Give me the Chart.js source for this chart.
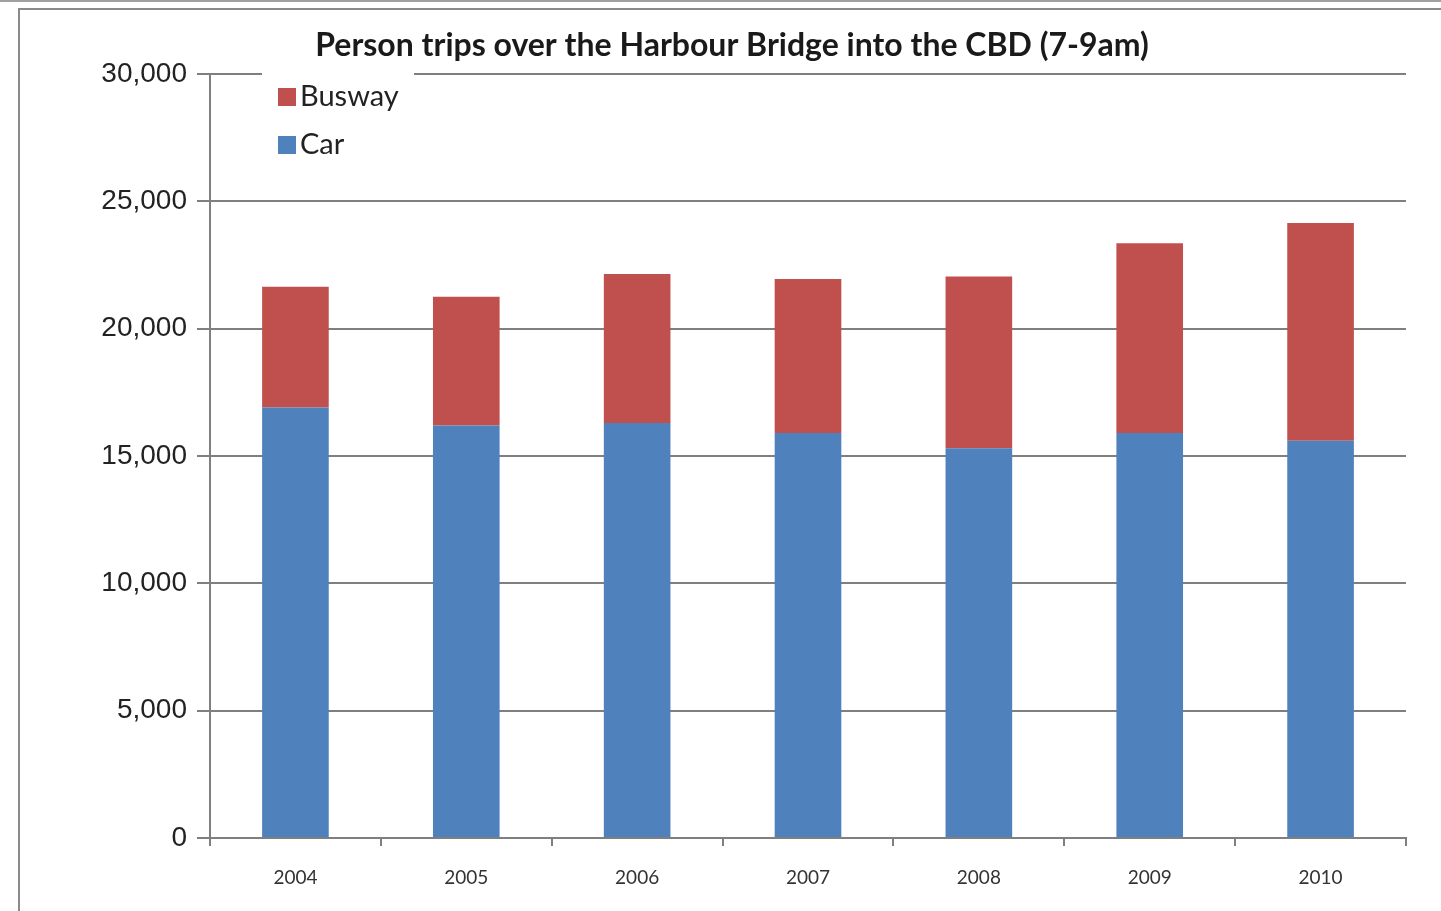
<!DOCTYPE html>
<html>
<head>
<meta charset="utf-8">
<script src="https://cdn.jsdelivr.net/npm/chart.js@4/dist/chart.umd.min.js"></script>
<style>
  html, body { margin: 0; padding: 0; background: #fff; }
  body { width: 1441px; height: 911px; position: relative; overflow: hidden; }
  .edge { position: absolute; left: 0; top: 0; width: 1441px; height: 2px; background: #a0a0a0; }
  .frame { position: absolute; left: 18px; top: 8px; width: 1500px; height: 1000px;
           border-left: 2px solid #8a8a8a; border-top: 2px solid #8a8a8a; }
  #myChart { position: absolute; left: 0; top: 0; }
</style>
</head>
<body>
<div class="edge"></div>
<div class="frame"></div>
<canvas id="myChart" width="1441" height="911"></canvas>
<script>
const years = ['2004', '2005', '2006', '2007', '2008', '2009', '2010'];
const carTrips = [16900, 16200, 16300, 15900, 15300, 15900, 15600];
const buswayTrips = [4750, 5050, 5850, 6050, 6750, 7450, 8550];
const yTicks = [0, 5000, 10000, 15000, 20000, 25000, 30000];

const axisGrey = '#7f7f7f';

// legend sits inside the plot, over the top gridline
const boxLegend = {
  id: 'boxLegend',
  afterDraw(chart) {
    const c = chart.ctx;
    const area = chart.chartArea;
    const x0 = area.left + 52;
    const y0 = area.top - 4;
    c.save();
    c.fillStyle = '#fff';
    c.fillRect(x0, y0, 152, 104);
    c.font = '29px Lato';
    c.textBaseline = 'middle';
    const sets = chart.data.datasets.slice().reverse();
    sets.forEach((ds, i) => {
      const cy = area.top + 23 + i * 48;
      c.fillStyle = ds.backgroundColor;
      c.fillRect(x0 + 16, cy - 9, 18, 18);
      c.fillStyle = '#222';
      c.fillText(ds.label, x0 + 38, cy);
    });
    c.restore();
  }
};

const data = {
  labels: years,
  datasets: [
    { label: 'Car', data: carTrips, backgroundColor: '#4F81BD' },
    { label: 'Busway', data: buswayTrips, backgroundColor: '#C0504D' }
  ]
};

const ctx = document.getElementById('myChart');
const myChart = new Chart(ctx, {
  type: 'bar',
  data: data,
  plugins: [boxLegend],
  options: {
    responsive: false,
    animation: false,
    layout: { padding: { left: 58, right: 35, top: 0, bottom: 0 } },
    datasets: { bar: { categoryPercentage: 1, barPercentage: 0.39 } },
    plugins: {
      legend: { display: false },
      tooltip: { enabled: false },
      title: {
        display: true,
        text: 'Person trips over the Harbour Bridge into the CBD (7-9am)',
        color: '#1a1a1a',
        font: { family: 'Lato', size: 32, weight: 'bold' },
        padding: { top: 26, bottom: 9.6 }
      }
    },
    scales: {
      x: {
        stacked: true,
        afterFit(scale) { scale.height = 73; },
        border: { color: axisGrey, width: 2 },
        grid: { offset: true, drawOnChartArea: false, color: axisGrey, lineWidth: 2, tickLength: 8 },
        ticks: { color: '#333', padding: 20, font: { family: 'Lato', size: 19 } }
      },
      y: {
        stacked: true,
        min: 0,
        max: 30000,
        afterFit(scale) { scale.width = 152; },
        afterBuildTicks(scale) { scale.ticks = yTicks.map(v => ({ value: v })); },
        border: { color: axisGrey, width: 2 },
        grid: { color: axisGrey, lineWidth: 2, tickLength: 13 },
        ticks: { color: '#222', padding: 10, font: { family: 'Liberation Sans', size: 28 } }
      }
    }
  }
});

console.log(myChart);
</script>
</body>
</html>
